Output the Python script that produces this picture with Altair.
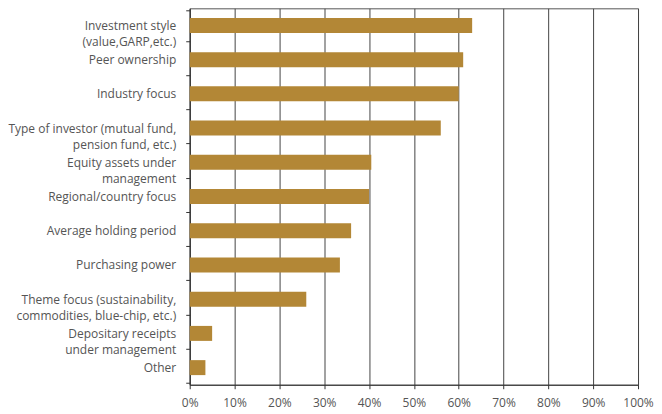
import altair as alt
import pandas as pd

categories = [
    "Investment style\n(value,GARP,etc.)",
    "Peer ownership",
    "Industry focus",
    "Type of investor (mutual fund,\npension fund, etc.)",
    "Equity assets under\nmanagement",
    "Regional/country focus",
    "Average holding period",
    "Purchasing power",
    "Theme focus (sustainability,\ncommodities, blue-chip, etc.)",
    "Depositary receipts\nunder management",
    "Other",
]
values = [0.63, 0.61, 0.60, 0.56, 0.405, 0.40, 0.36, 0.335, 0.26, 0.05, 0.035]
x_ticks = [i / 10 for i in range(11)]

df = pd.DataFrame({"category": categories, "value": values})

label_font = "Open Sans"

bars = alt.Chart(df).mark_bar(color="#B38736", height=15).encode(
    x=alt.X(
        "value:Q",
        scale=alt.Scale(domain=[0, 1], nice=False),
        axis=alt.Axis(
            format="%",
            values=x_ticks,
            title=None,
            grid=True,
            gridColor="#444444",
            gridOpacity=1,
            gridWidth=1,
            domainColor="#333333",
            tickColor="#333333",
            tickSize=4,
            labelPadding=9,
            labelFlush=False,
            labelBound=False,
            labelOverlap=False,
            labelFont=label_font,
            labelFontSize=12,
            labelColor="#555555",
        ),
    ),
    y=alt.Y(
        "category:N",
        sort=categories,
        axis=alt.Axis(
            title=None,
            grid=False,
            tickBand="extent",
            domainColor="#333333",
            tickColor="#333333",
            tickSize=4,
            labelPadding=10,
            labelFont=label_font,
            labelFontSize=12,
            labelColor="#555555",
            labelLineHeight=16,
            labelExpr="split(datum.label, '\\n')",
            labelLimit=300,
        ),
    ),
).properties(
    width=449,
    height=377,
    autosize="none",
    padding={"left": 182, "top": 0, "right": 16, "bottom": 29},
).configure_view(
    stroke="#555555",
    strokeWidth=1,
)

chart = bars
chart.save("out.html", embed_options={"renderer": "svg", "actions": False})
